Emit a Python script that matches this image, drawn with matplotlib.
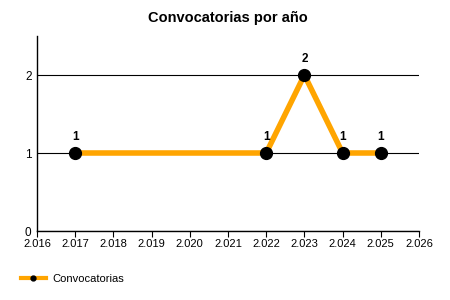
import matplotlib.pyplot as plt
from matplotlib.ticker import FuncFormatter, MultipleLocator

plt.rcParams['font.family'] = ['Liberation Sans', 'DejaVu Sans']

years = [2017, 2022, 2023, 2024, 2025]
counts = [1, 1, 2, 1, 1]
series_name = "Convocatorias"


def miles(x, pos):
    return f"{int(round(x)):,}".replace(",", ".")


fig = plt.figure(figsize=(4.5, 3), dpi=100)
ax = fig.add_axes([37 / 450, 1 - 231 / 300, (419 - 37) / 450, (231 - 36) / 300])

ax.plot(years, counts, color='#FFA500', linewidth=4, marker='o',
        markersize=8.5, markerfacecolor='black', markeredgecolor='black',
        label=series_name, zorder=3)
for x, y in zip(years, counts):
    ax.annotate(str(y), (x, y), xytext=(0, 7), textcoords='offset points',
                ha='center', va='bottom', fontsize=8.5, fontweight='bold')

ax.set_xlim(2016, 2026)
ax.set_ylim(0, 2.5)
ax.xaxis.set_major_locator(MultipleLocator(1))
ax.xaxis.set_major_formatter(FuncFormatter(miles))
ax.set_yticks([0, 1, 2])
ax.grid(axis='y', color='black', linewidth=0.8)
ax.set_axisbelow(True)
for s in ['top', 'right']:
    ax.spines[s].set_visible(False)
ax.spines['left'].set_linewidth(1)
ax.spines['bottom'].set_linewidth(1)
ax.tick_params(axis='x', length=4, labelsize=8, pad=2)
ax.tick_params(axis='y', length=0, labelsize=8.5, pad=4)

ax.set_title("Convocatorias por año", fontsize=10.5, fontweight='bold', pad=10)

leg_line, = ax.plot([], [], color='#FFA500', linewidth=3, marker='o',
                    markersize=3.5, markerfacecolor='black', markeredgecolor='black')
fig.legend([leg_line], [series_name], loc='lower left',
           bbox_to_anchor=(0.025, 0.02), frameon=False, fontsize=8,
           handlelength=2.2, handletextpad=0.6)

fig.savefig("out.png", dpi=100)
